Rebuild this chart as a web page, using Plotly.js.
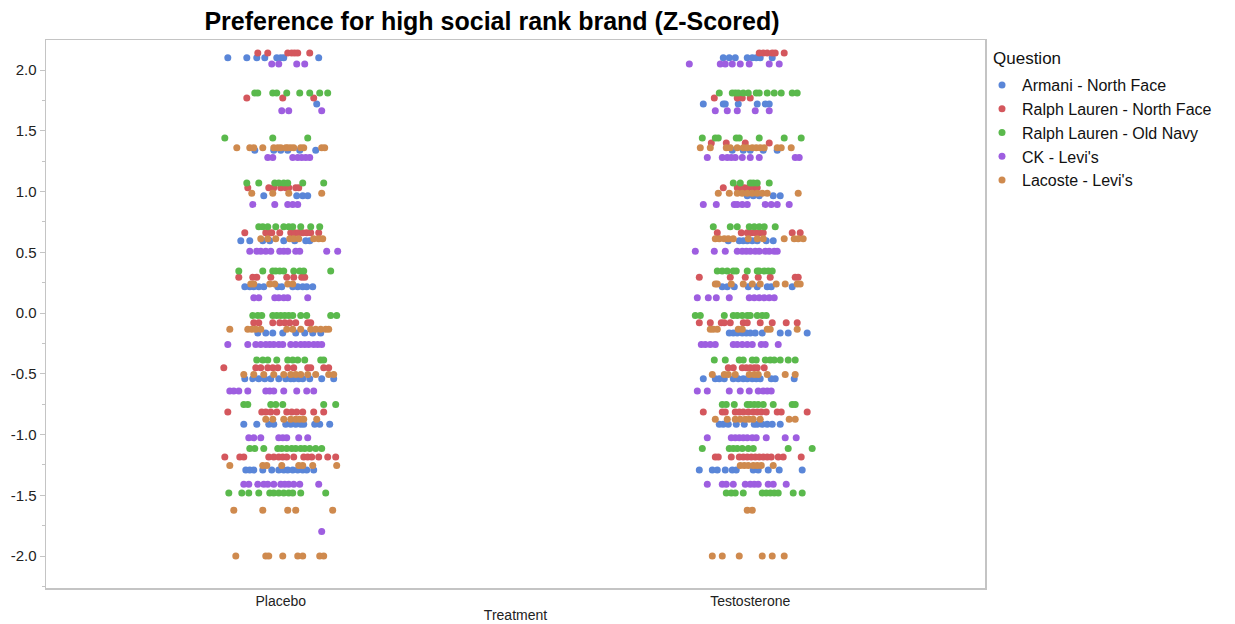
<!DOCTYPE html>
<html>
<head>
<meta charset="utf-8">
<script src="https://cdn.plot.ly/plotly-3.0.1.min.js"></script>
<style>html,body{margin:0;padding:0;background:#fff;}#chart{width:1235px;height:624px;}</style>
</head>
<body>
<div id="chart"></div>
<script>
// Categories
const treatments = ['Placebo', 'Testosterone'];
const questions = ['Armani - North Face', 'Ralph Lauren - North Face', 'Ralph Lauren - Old Navy', "CK - Levi's", "Lacoste - Levi's"];
const colors = ['#5a86d8', '#d4575d', '#5ab94c', '#9e5ee0', '#cf8a4e'];

// Each row: [z-score value, horizontal jitter offsets (1/470 of a category width)]
const armaniPlacebo = [
  [2.10, [-53,-34,-24,-16,-4,0,3,38]],
  [1.72, [36]],
  [1.34, [-26,-7,0,7,19,35]],
  [0.966, [-17,16,22,27]],
  [0.595, [-40,-31,-18,-11,3,14,25,29]],
  [0.217, [-36,-31,-27,-22,-17,-3,1,12,17,22,26,32]],
  [-0.165, [-23,-15,-8,2,15,24,32,40]],
  [-0.54, [-36,-28,-22,-16,-10,-2,5,10,13,18,22,29,41,53]],
  [-0.916, [-37,-24,-12,-7,5,10,15,20,23,34,39,49]],
  [-1.292, [-35,-31,-27,-18,-9,-2,3,7,12,17,22,26,33]]
];
const rlnfPlacebo = [
  [2.14, [-23,-13,7,11,14,17,29]],
  [1.77, [-34,2,33]],
  [1.03, [-33,-12,-7,0,5,8,15,18]],
  [0.66, [-36,-15,-12,-9,-1,10,14,18,22,26,30,38]],
  [0.294, [-42,-28,-24,-10,6,13,21,24]],
  [-0.08, [-27,-22,-8,-1,4,9,15,27,30]],
  [-0.45, [-57,-25,-20,-13,-8,-3,7,13,27,30,43,48]],
  [-0.815, [-53,-19,-15,-10,-4,6,11,16,22,33,43]],
  [-1.185, [-56,-41,-37,-12,-7,-2,2,6,13,23,27,31,38,47,55]]
];
const rlonPlacebo = [
  [1.81, [-26,-23,-8,-4,6,19,29,39,47]],
  [1.44, [-56,-8,27]],
  [1.07, [-34,-22,-6,-2,3,7,22,43]],
  [0.71, [-22,-18,-13,-5,3,8,12,20,30,39]],
  [0.345, [-42,-18,-8,-5,-1,3,13,19,23,50]],
  [-0.02, [-28,-23,-19,-8,-4,0,4,8,12,20,26,50,56]],
  [-0.387, [-24,-18,-13,-4,7,12,17,24,40,43]],
  [-0.752, [-37,-33,-10,-5,2,43,55]],
  [-1.114, [-31,-26,-17,-3,1,6,11,15,20,24,29,35,41]],
  [-1.481, [-52,-39,-32,-22,-11,-7,-2,3,8,12,20,45]]
];
const ckPlacebo = [
  [2.05, [-9,-2,16,24]],
  [1.665, [1,8,41]],
  [1.28, [-13,-8,12,17,21,25,29]],
  [0.894, [-28,-6,7,12,17]],
  [0.508, [-31,-24,-20,-15,-10,-1,3,7,15,19,46,57]],
  [0.126, [-27,-22,-6,-2,3,7,27]],
  [-0.258, [-53,-33,-25,-20,-15,-11,-7,-2,2,10,15,20,24,28,33,37,41]],
  [-0.642, [-51,-47,-42,-33,-15,-11,-7,3,16,26,33]],
  [-1.026, [-32,-27,-20,-2,2,6,18,27]],
  [-1.41, [-37,-32,-23,-17,-13,-7,0,4,8,13,19,38]],
  [-1.797, [41]]
];
const lacostePlacebo = [
  [1.36, [-44,-31,-27,-18,-7,-3,0,5,7,10,13,20,23,41,44]],
  [0.985, [-29,-8,8,41]],
  [0.612, [-20,-13,-5,9,13,18,33,38,42]],
  [0.239, [-30,-27,-11,-6,7,12]],
  [-0.134, [-51,-33,-29,-25,-20,6,12,20,30,35,40,45,48]],
  [-0.505, [-37,-27,-17,-7,3,10,15,20,27,35,48,53]],
  [-0.875, [-15,-8,3,10,15,19,23,36]],
  [-1.254, [-51,-18,-14,1,18,22,32,56]],
  [-1.623, [-47,-18,7,15,52]],
  [-2.0, [-45,-15,-12,2,17,22,39,43]]
];

const armaniTestosterone = [
  [2.10, [-27,-21,-15,-3,2,6,10,22]],
  [1.72, [-47,-27,-25,-12,7,15,19]],
  [1.34, [-18,-7,0,13,27]],
  [0.966, [-3,3,9,23,30]],
  [0.595, [-22,-11,-7,-3,2,7,16,23]],
  [0.217, [-28,-23,-16,-2,7,17,21,42]],
  [-0.165, [-21,-17,-13,-8,-4,0,5,12,30,38,57]],
  [-0.54, [-47,-35,-31,-26,-17,-12,-7,-3,2,6,10,21,25,44]],
  [-0.916, [-31,-27,-22,-14,-6,4,7,12,17,22,30]],
  [-1.292, [-51,-38,-33,-25,-18,-14,3,8,18,29,52]]
];
const rlnfTestosterone = [
  [2.14, [9,13,17,22,25,34]],
  [1.77, [-36,-13,-8,0]],
  [1.40, [-39,-24,-5,19]],
  [1.03, [-27,-13,-10,-6,-2,3,7]],
  [0.66, [-33,-9,-3,1,5,9,13,42,50]],
  [0.294, [-51,-20,-5,8,20,45,48]],
  [-0.08, [-51,-40,-29,-26,-20,-7,-3,10,22,36,47]],
  [-0.45, [-22,-17,-8,-4,0,4,7,14]],
  [-0.815, [-47,-28,-25,-15,-11,-7,-2,3,7,11,16,27,31,57]],
  [-1.185, [-35,-32,-19,-11,-7,-3,1,5,9,13,17,21,28,33,51]]
];
const rlonTestosterone = [
  [1.81, [-31,-18,-15,-12,-7,-2,6,9,17,24,31,42,47]],
  [1.44, [-48,-35,-32,-14,-11,9,34,51]],
  [1.07, [-17,-10,0,3,7,19]],
  [0.71, [-37,-20,-13,-1,4,9,14,25]],
  [0.345, [-33,-28,-23,-17,-14,-3,7,9,14,18,22]],
  [-0.02, [-55,-50,-26,-17,-13,-8,-3,0,7,12,16]],
  [-0.387, [-36,-25,-11,-7,2,6,15,20,24,30,38,45]],
  [-0.752, [-28,-24,-16,-3,0,4,8,13,23,42,45]],
  [-1.114, [-48,-21,-17,-13,-8,-2,3,38,62]],
  [-1.481, [-24,-19,-15,-7,12,16,20,24,28,43,52]]
];
const ckTestosterone = [
  [2.05, [-61,-30,-25,-18,-10,-1,19,29]],
  [1.665, [-35,-23,-13,5,19]],
  [1.28, [-43,-28,-23,-19,-15,-8,0,9,45,49]],
  [0.894, [-47,-34,-16,-13,-8,-3,15,21,27,39]],
  [0.508, [-55,-36,-25,-13,-8,-4,0,5,9,15,19,24,27]],
  [0.126, [-53,-42,-34,-21,-1,4,9,14,19,24]],
  [-0.258, [-49,-45,-40,-35,-17,-13,-8,-3,2,11,15,28]],
  [-0.642, [-53,-43,-21,-10,-1,8,13,17,21]],
  [-1.026, [-43,-19,-15,-11,-7,-3,2,6,16,35,46]],
  [-1.41, [-43,-28,-24,-17,-5,0,4,8,18,23,36]]
];
const lacosteTestosterone = [
  [1.36, [-50,-40,-24,-20,-13,-7,-3,2,6,10,14,27,31,41]],
  [0.985, [-32,-21,-13,-8,-3,2,7,12,17,48]],
  [0.612, [-35,-31,-26,-22,-17,-2,7,13,34,44,48,53]],
  [0.239, [-35,-33,-19,-7,2,10,26,35,47,50]],
  [-0.134, [-40,-37,-33,-12,-8,17,20,47]],
  [-0.505, [-38,-26,-22,-15,-1,4,8,17,35,45]],
  [-0.875, [-35,-23,-15,-10,-5,-1,3,10,39,45]],
  [-1.254, [-10,-6,-2,3,7,11,23]],
  [-1.623, [-3,2]],
  [-2.0, [-38,-28,-11,12,22,34]]
];

const seriesData = [
  [armaniPlacebo, armaniTestosterone],
  [rlnfPlacebo, rlnfTestosterone],
  [rlonPlacebo, rlonTestosterone],
  [ckPlacebo, ckTestosterone],
  [lacostePlacebo, lacosteTestosterone]
];

const JITTER_UNIT = 1 / 470;

const traces = questions.map((q, qi) => {
  const xs = [], ys = [];
  seriesData[qi].forEach((rows, ti) => {
    rows.forEach(([val, offs]) => {
      offs.forEach(o => { xs.push(ti + o * JITTER_UNIT); ys.push(val); });
    });
  });
  return {
    type: 'scatter', mode: 'markers', name: q, x: xs, y: ys,
    marker: {color: colors[qi], size: 7, line: {width: 0}},
    hoverinfo: 'y+name'
  };
});

const font = 'Liberation Sans, Arial, Helvetica, sans-serif';
const layout = {
  width: 1235, height: 624,
  margin: {l: 46, r: 250, t: 40, b: 36},
  paper_bgcolor: '#ffffff', plot_bgcolor: '#ffffff',
  font: {family: font, size: 14, color: '#222'},
  title: {
    text: '<b>Preference for high social rank brand (Z-Scored)</b>',
    font: {family: font, size: 25, color: '#000'},
    x: 492 / 1235, xref: 'container', xanchor: 'center',
    y: 1 - 21 / 624, yref: 'container', yanchor: 'middle'
  },
  xaxis: {
    range: [-0.5, 1.5], tickvals: [0, 1], ticktext: treatments,
    showgrid: false, zeroline: false, showline: true, linecolor: '#c4c4c4', linewidth: 1.5, mirror: true,
    ticks: '', tickfont: {size: 14, color: '#222'}, automargin: false,
    title: {text: 'Treatment', font: {size: 14, color: '#222'}, standoff: 2}
  },
  yaxis: {
    range: [-2.263, 2.247], tickvals: [-2, -1.5, -1, -0.5, 0, 0.5, 1, 1.5, 2],
    ticktext: ['-2.0', '-1.5', '-1.0', '-0.5', '0.0', '0.5', '1.0', '1.5', '2.0'],
    showgrid: false, zeroline: false, showline: true, linecolor: '#c4c4c4', linewidth: 1.5, mirror: true,
    ticks: 'outside', ticklen: 5, tickcolor: '#c4c4c4', tickfont: {size: 15, color: '#222'},
    minor: {tickvals: [-2.25, -1.75, -1.25, -0.75, -0.25, 0.25, 0.75, 1.25, 1.75], ticks: 'outside', ticklen: 3, tickcolor: '#c4c4c4'},
    automargin: false
  },
  legend: {
    x: (982 - 46) / 939, xanchor: 'left', y: 1 - 28 / 548, yanchor: 'top',
    font: {size: 16, color: '#111'},
    tracegroupgap: 0, bgcolor: 'rgba(0,0,0,0)'
  },
  annotations: [{
    text: 'Question', xref: 'paper', yref: 'paper',
    x: (991 - 46) / 939, xanchor: 'left', y: 1 - 18 / 548, yanchor: 'middle',
    showarrow: false, font: {size: 17, color: '#111'}
  }],
  showlegend: true
};

Plotly.newPlot('chart', traces, layout, {displayModeBar: false, staticPlot: true});
</script>
</body>
</html>
